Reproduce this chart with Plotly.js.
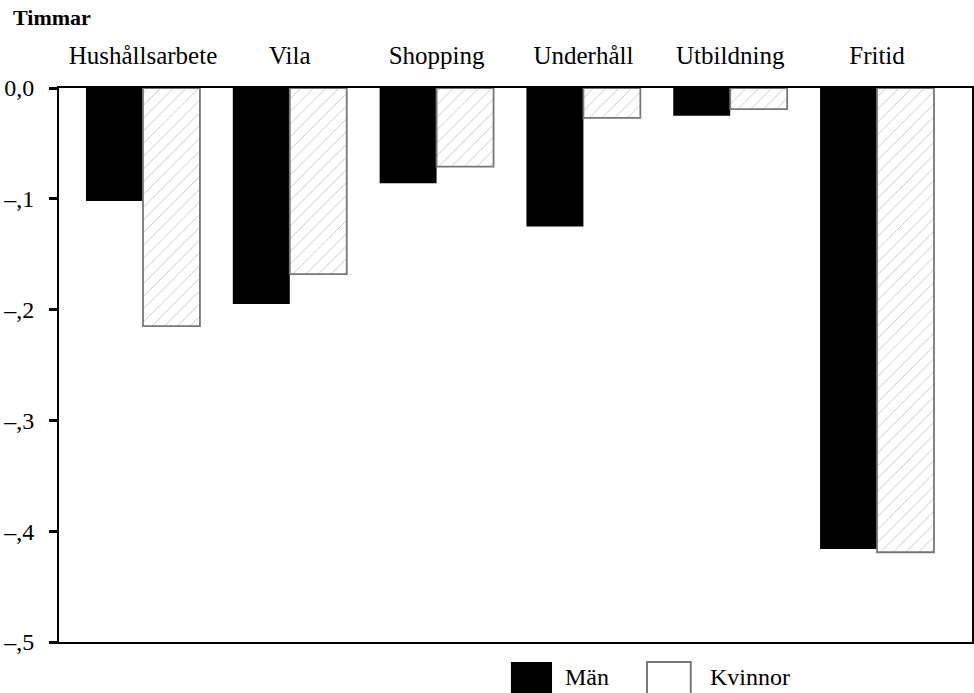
<!DOCTYPE html>
<html><head><meta charset="utf-8">
<script src="https://cdn.plot.ly/plotly-3.0.1.min.js"></script>
<style>body{margin:0;background:#fff}#c{width:974px;height:693px}</style>
</head><body><div id="c"></div>
<script>
const categories = ["Hushållsarbete", "Vila", "Shopping", "Underhåll", "Utbildning", "Fritid"];
const man = [-0.102, -0.195, -0.086, -0.125, -0.025, -0.416];
const kvinnor = [-0.215, -0.168, -0.071, -0.027, -0.019, -0.419];
const yTickVals = [0, -0.1, -0.2, -0.3, -0.4, -0.5];
const yTickText = ["0,0", "\u2013,1", "\u2013,2", "\u2013,3", "\u2013,4", "\u2013,5"];
const seriesNames = ["Män", "Kvinnor"];

const FONT = "Liberation Serif, Times New Roman, serif";

const traces = [
  {type: "bar", name: seriesNames[0], x: categories, y: man,
   marker: {color: "#000", line: {color: "#000", width: 0}}, showlegend: false},
  {type: "bar", name: seriesNames[1], x: categories, y: kvinnor,
   marker: {color: "#fff", line: {color: "#777", width: 1.8},
            pattern: {shape: "/", fgcolor: "#999", size: 9, solidity: 0.06}}, showlegend: false}
];

const layout = {
  width: 974, height: 693,
  margin: {l: 59, r: 2, t: 88, b: 51},
  paper_bgcolor: "#fff", plot_bgcolor: "#fff",
  font: {family: FONT, size: 22, color: "#000"},
  barmode: "group", bargap: 0.224, bargroupgap: 0,
  xaxis: {type: "category", side: "top", range: [-0.572, 5.647],
          showline: true, linecolor: "#000", linewidth: 2, mirror: true,
          ticks: "", showgrid: false, zeroline: false,
          tickfont: {family: FONT, size: 25, color: "#000"}, ticklabelstandoff: 12},
  yaxis: {range: [-0.5, 0], tickvals: yTickVals, ticktext: yTickText,
          showline: true, linecolor: "#000", linewidth: 2, mirror: true,
          ticks: "outside", ticklen: 8, tickwidth: 3, tickcolor: "#000",
          showgrid: false, zeroline: false, ticklabelstandoff: 10,
          tickfont: {family: FONT, size: 24, color: "#000"}},
  annotations: [
    {text: "<b>Timmar</b>", xref: "paper", yref: "paper", x: -0.053, y: 1.127,
     xanchor: "left", yanchor: "middle", showarrow: false, font: {family: FONT, size: 22}},
    {text: seriesNames[0], xref: "paper", yref: "paper", x: 0.552, y: -0.064,
     xanchor: "left", yanchor: "middle", showarrow: false, font: {family: FONT, size: 24}},
    {text: seriesNames[1], xref: "paper", yref: "paper", x: 0.711, y: -0.064,
     xanchor: "left", yanchor: "middle", showarrow: false, font: {family: FONT, size: 24}}
  ],
  shapes: [
    {type: "rect", xref: "paper", yref: "paper", x0: 0.495, x1: 0.540, y0: -0.036, y1: -0.095,
     fillcolor: "#000", line: {width: 0}},
    {type: "rect", xref: "paper", yref: "paper", x0: 0.644, x1: 0.692, y0: -0.036, y1: -0.095,
     fillcolor: "#fff", line: {color: "#777", width: 2}}
  ]
};

Plotly.newPlot("c", traces, layout, {displayModeBar: false, staticPlot: true});
</script></body></html>
